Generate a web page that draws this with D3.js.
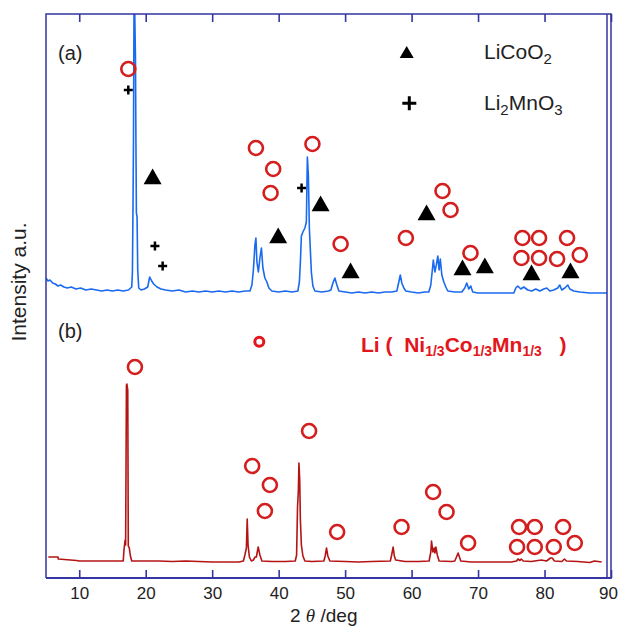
<!DOCTYPE html>
<html>
<head>
<meta charset="utf-8">
<script src="https://cdn.jsdelivr.net/npm/d3@7"></script>
<style>
body { margin: 0; background: #fff; }
text { font-family: "Liberation Sans", Arial, sans-serif; }
</style>
</head>
<body>
<script>
// XRD trace (a), [2theta, intensity a.u.]
var traceA = [
  [5.0, 300], [5.3, 297], [5.6, 298], [6.0, 295], [6.4, 294], [6.8, 292], [7.2, 293], [7.7, 291],
  [8.2, 290], [8.8, 291], [9.5, 289], [10.2, 290], [11.0, 288], [11.8, 289], [12.6, 288], [13.4, 287],
  [14.2, 288], [15.0, 287], [15.8, 288], [16.6, 287], [17.4, 288], [17.9, 291], [18.0, 306], [18.08, 365],
  [18.16, 435], [18.24, 570], [18.34, 570], [18.46, 520], [18.53, 435], [18.6, 365], [18.7, 361], [18.8, 308],
  [18.95, 290], [19.3, 288], [19.8, 289], [20.3, 291], [20.6, 301], [20.9, 297], [21.2, 294], [21.7, 291],
  [22.3, 289], [23.0, 288], [24.0, 287], [25.0, 288], [26.0, 286], [27.0, 287], [28.0, 286], [29.0, 287],
  [30.0, 286], [31.0, 287], [32.0, 286], [33.0, 287], [34.0, 286], [35.0, 287], [35.68, 287], [35.98, 293],
  [36.2, 308], [36.43, 333], [36.58, 340], [36.73, 316], [36.95, 306], [37.18, 320], [37.41, 330], [37.63, 310],
  [37.93, 300], [38.23, 296], [38.53, 290], [38.98, 287], [40.0, 286], [41.0, 287], [42.0, 286], [42.89, 287],
  [43.12, 296], [43.27, 316], [43.42, 342], [43.65, 346], [43.95, 350], [44.17, 356], [44.32, 421], [44.47, 403],
  [44.62, 350], [44.77, 328], [44.92, 306], [45.15, 292], [45.45, 287], [46.5, 286], [47.5, 287], [47.86, 288],
  [48.16, 295], [48.46, 300], [48.76, 293], [49.06, 287], [50.0, 286], [51.0, 285], [52.0, 286], [53.0, 285],
  [54.0, 286], [55.0, 285], [56.0, 286], [57.0, 286], [57.78, 287], [58.08, 296], [58.3, 303], [58.53, 295],
  [58.83, 290], [59.14, 287], [60.0, 286], [61.0, 285], [62.0, 286], [62.59, 286], [62.89, 293], [63.12, 308],
  [63.27, 318], [63.5, 306], [63.72, 313], [63.95, 322], [64.14, 308], [64.32, 319], [64.55, 303], [64.85, 296],
  [65.15, 291], [65.45, 287], [66.5, 286], [67.56, 286], [68.0, 290], [68.3, 295], [68.6, 289], [68.9, 292],
  [69.2, 286], [70.0, 285], [72.0, 285], [74.0, 285], [75.38, 285], [75.68, 290], [75.98, 292], [76.43, 289],
  [76.88, 291], [77.48, 288], [78.08, 287], [78.68, 289], [79.29, 287], [79.89, 289], [80.34, 290], [80.79, 287],
  [81.39, 288], [81.99, 290], [82.29, 293], [82.59, 288], [83.05, 290], [83.5, 293], [83.8, 289], [84.4, 287],
  [85.3, 286], [86.8, 285], [89.4, 285]
];

// XRD trace (b)
var traceB = [
  [5.35, 21], [6.8, 21], [6.85, 19], [9.6, 17.5], [10.0, 17], [12.0, 17], [14.0, 17], [16.62, 17],
  [16.73, 28], [16.9, 38], [16.98, 33], [17.1, 193], [17.17, 194], [17.3, 188], [17.38, 32], [17.53, 30],
  [17.7, 22], [17.9, 17], [20.0, 17], [22.0, 17], [24.0, 16.5], [26.0, 17], [28.0, 16.5], [30.0, 16],
  [32.0, 16], [34.0, 16], [34.7, 17], [34.92, 23], [35.15, 30], [35.27, 59], [35.4, 33], [35.6, 21],
  [35.9, 17], [36.2, 18], [36.45, 21], [36.65, 21], [36.92, 31], [37.18, 23], [37.48, 17], [39.0, 16.5],
  [41.0, 16.5], [42.5, 17], [42.7, 23], [42.84, 71], [42.97, 88], [43.05, 115], [43.17, 98], [43.27, 58],
  [43.42, 33], [43.65, 22], [43.95, 17], [45.0, 16.5], [46.8, 17], [47.0, 22], [47.2, 30], [47.4, 22],
  [47.7, 17], [50.0, 16.5], [52.0, 16], [54.0, 16.5], [56.8, 17], [57.0, 23], [57.23, 31], [57.4, 22],
  [57.6, 18], [59.0, 16.5], [61.0, 16.5], [62.64, 17], [62.89, 26], [63.0, 37], [63.2, 26], [63.4, 30],
  [63.52, 25], [63.65, 31], [63.87, 23], [64.14, 17], [66.0, 16.5], [66.5, 17], [67.0, 25], [67.4, 17],
  [69.0, 16], [71.0, 16], [73.0, 16], [75.0, 16], [75.8, 17], [76.0, 19], [76.3, 17.5], [76.5, 19],
  [76.8, 17], [78.0, 16.5], [79.5, 18], [80.3, 17], [80.9, 20], [81.15, 20], [81.5, 17], [82.6, 16.5],
  [83.0, 19], [83.3, 17], [85.0, 16.5], [86.8, 15.5], [87.5, 17], [88.6, 16]
];

// peak markers
var circlesA = [
  [17.38, 509], [36.58, 430], [39.18, 409], [38.79, 385], [45.08, 434], [49.32, 334], [59.14, 340],
  [64.65, 387], [65.86, 368], [68.86, 325], [76.68, 340], [79.18, 340], [83.39, 340], [76.53, 320],
  [79.18, 320], [81.89, 319], [85.3, 323]
];
var circlesB = [
  [18.38, 211], [36.02, 112], [38.68, 93], [37.93, 67], [44.58, 147], [48.8, 46], [58.49, 51],
  [63.24, 86], [65.26, 66], [68.5, 35], [76.17, 51], [78.53, 51], [82.79, 51], [75.87, 31],
  [78.53, 31], [81.39, 31], [84.55, 35]
];
var triangles = [
  [21.04, 399], [39.93, 340], [46.31, 372], [50.82, 305], [62.25, 363], [67.66, 308], [71.02, 310],
  [78.04, 303], [83.9, 305]
];
var crosses = [[17.38, 488], [21.39, 332], [22.55, 312], [43.45, 390]];

var xTicks = [10, 20, 30, 40, 50, 60, 70, 80, 90];

var svgWidth = 620;
var svgHeight = 626;
var plotLeft = 46, plotRight = 611, plotTop = 14, plotBottom = 578;
var frameColor = "#3535a3";

var x = d3.scaleLinear().domain([5, 90]).range([plotLeft, plotRight]);
var y = d3.scaleLinear().domain([0, 564]).range([plotBottom, plotTop]);

var svg = d3.select("body")
            .append("svg")
            .attr("width", svgWidth)
            .attr("height", svgHeight);

svg.append("clipPath").attr("id", "plotclip")
   .append("rect")
   .attr("x", plotLeft).attr("y", plotTop)
   .attr("width", plotRight - plotLeft).attr("height", plotBottom - plotTop);

var line = d3.line().x((d) => x(d[0])).y((d) => y(d[1]));

var plot = svg.append("g").attr("clip-path", "url(#plotclip)");

plot.append("path")
    .datum(traceA)
    .attr("d", line)
    .attr("fill", "none")
    .attr("stroke", "#1a6aef")
    .attr("stroke-width", 1.6)
    .attr("stroke-linejoin", "round");

plot.append("path")
    .datum(traceB)
    .attr("d", line)
    .attr("fill", "none")
    .attr("stroke", "#b51414")
    .attr("stroke-width", 1.6)
    .attr("stroke-linejoin", "round");

// markers
svg.selectAll("circle.pk")
   .data(circlesA.concat(circlesB))
   .enter()
   .append("circle")
   .attr("class", "pk")
   .attr("cx", (d) => x(d[0]))
   .attr("cy", (d) => y(d[1]))
   .attr("r", 7)
   .attr("fill", "none")
   .attr("stroke", "#d41e1e")
   .attr("stroke-width", 2.6);

var triSym = d3.symbol().type(d3.symbolTriangle).size(140);
svg.selectAll("path.tri")
   .data(triangles)
   .enter()
   .append("path")
   .attr("class", "tri")
   .attr("d", triSym)
   .attr("transform", (d) => "translate(" + x(d[0]) + "," + y(d[1]) + ")")
   .attr("fill", "#000");

function plus(h) { return "M" + (-h) + ",0H" + h + "M0," + (-h) + "V" + h; }

svg.selectAll("path.cross")
   .data(crosses)
   .enter()
   .append("path")
   .attr("class", "cross")
   .attr("d", plus(4.5))
   .attr("transform", (d) => "translate(" + x(d[0]) + "," + y(d[1]) + ")")
   .attr("stroke", "#000")
   .attr("stroke-width", 2.5);

// axes
var xAxis = d3.axisBottom(x).tickValues(xTicks).tickSizeInner(-8).tickSizeOuter(0).tickPadding(9);
var gx = svg.append("g")
   .attr("transform", "translate(0," + plotBottom + ")")
   .call(xAxis);
gx.select(".domain").remove();
gx.selectAll("line").attr("stroke", frameColor).attr("stroke-width", 1.6);
gx.selectAll("text").attr("font-size", 17).attr("fill", "#222")
  .attr("font-family", "Liberation Sans, Arial, sans-serif");
gx.selectAll(".tick").filter((d) => d === 90).select("text").attr("dx", -3);

var xTop = d3.axisTop(x).tickValues(xTicks).tickSizeInner(-8).tickSizeOuter(0).tickFormat("");
var gt = svg.append("g")
   .attr("transform", "translate(0," + plotTop + ")")
   .call(xTop);
gt.select(".domain").remove();
gt.selectAll("line").attr("stroke", frameColor).attr("stroke-width", 1.6);

// frame
svg.append("path")
   .attr("d", "M" + plotLeft + "," + plotBottom + "V" + plotTop + "H" + plotRight + "V" + plotBottom)
   .attr("fill", "none").attr("stroke", frameColor).attr("stroke-width", 1.5);
svg.append("line")
   .attr("x1", plotRight - 4).attr("x2", plotRight - 4).attr("y1", plotTop).attr("y2", plotBottom)
   .attr("stroke", frameColor).attr("stroke-width", 1.5);
svg.append("line")
   .attr("x1", plotLeft).attr("x2", plotRight + 0.75).attr("y1", plotBottom).attr("y2", plotBottom)
   .attr("stroke", frameColor).attr("stroke-width", 2.2);

// panel labels
svg.append("text").attr("x", 58).attr("y", 60).attr("font-size", 20).attr("fill", "#222").text("(a)");
svg.append("text").attr("x", 58).attr("y", 338).attr("font-size", 20).attr("fill", "#222").text("(b)");

// legend
svg.append("path")
   .attr("d", d3.symbol().type(d3.symbolTriangle).size(85))
   .attr("transform", "translate(406.7,54)")
   .attr("fill", "#000");
svg.append("path")
   .attr("d", plus(7))
   .attr("transform", "translate(409.3,103.3)")
   .attr("stroke", "#000").attr("stroke-width", 3);

var t1 = svg.append("text").attr("x", 484).attr("y", 59).attr("font-size", 21).attr("fill", "#222");
t1.append("tspan").text("LiCoO");
t1.append("tspan").attr("font-size", 15).attr("dy", 5).text("2");

var t2 = svg.append("text").attr("x", 484).attr("y", 110).attr("font-size", 21).attr("fill", "#222");
t2.append("tspan").text("Li");
t2.append("tspan").attr("font-size", 15).attr("dy", 5).text("2");
t2.append("tspan").attr("dy", -5).text("MnO");
t2.append("tspan").attr("font-size", 15).attr("dy", 5).text("3");

svg.append("circle")
   .attr("cx", 259.3).attr("cy", 341.7).attr("r", 4.5)
   .attr("fill", "none").attr("stroke", "#e3161c").attr("stroke-width", 3);

var t3 = svg.append("text").attr("x", 361).attr("y", 352)
   .attr("font-size", 21).attr("font-weight", "bold").attr("fill", "#e3161c")
   .style("white-space", "pre");
t3.append("tspan").text("Li (  Ni");
t3.append("tspan").attr("font-size", 14).attr("dy", 4).text("1/3");
t3.append("tspan").attr("dy", -4).text("Co");
t3.append("tspan").attr("font-size", 14).attr("dy", 4).text("1/3");
t3.append("tspan").attr("dy", -4).text("Mn");
t3.append("tspan").attr("font-size", 14).attr("dy", 4).text("1/3");
t3.append("tspan").attr("dy", -4).text("   )");

// axis titles
var xt = svg.append("text").attr("x", 290).attr("y", 622).attr("font-size", 19).attr("fill", "#222")
   .style("white-space", "pre");
xt.append("tspan").text("2 ");
xt.append("tspan").attr("font-style", "italic").attr("font-family", "Liberation Serif, serif").text("θ");
xt.append("tspan").text(" /deg");

svg.append("text")
   .attr("transform", "translate(26,282) rotate(-90)")
   .attr("text-anchor", "middle")
   .attr("font-size", 21)
   .attr("fill", "#222")
   .text("Intensity a.u.");
</script>
</body>
</html>
